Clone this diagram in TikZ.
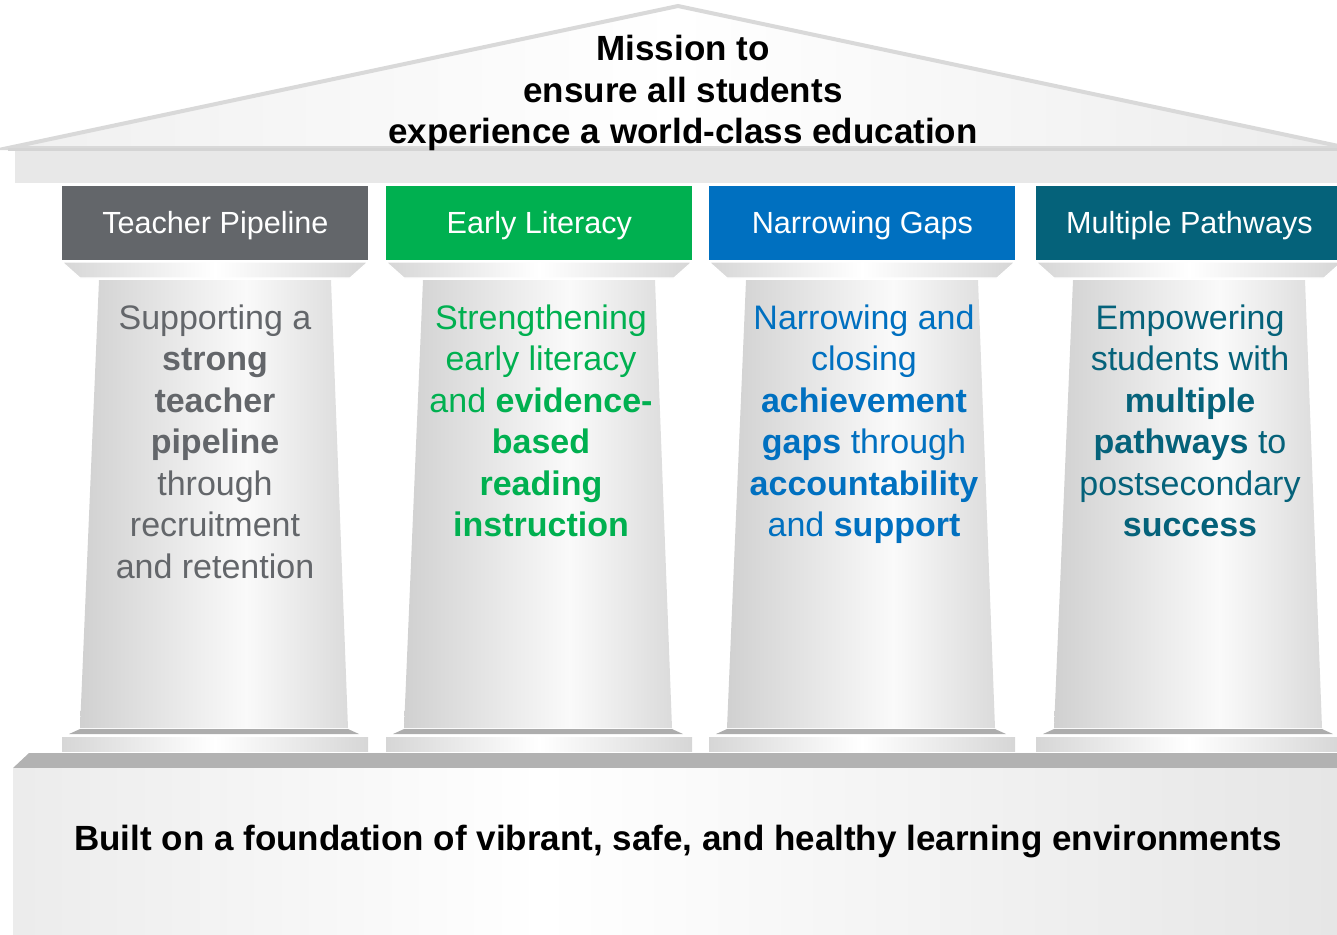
\documentclass[tikz,border=0pt]{standalone}
\usepackage{fontspec}
\setmainfont{Liberation Sans}
\usetikzlibrary{calc}

\definecolor{pipegray}{HTML}{63666A}
\definecolor{litgreen}{HTML}{00B050}
\definecolor{gapblue}{HTML}{0070C0}
\definecolor{pathteal}{HTML}{05627A}

\pgfdeclarehorizontalshading{roofshade}{100bp}{color(0bp)=(black!12); color(50bp)=(white); color(100bp)=(black!15)}
\pgfdeclarehorizontalshading{columnshade}{100bp}{color(0bp)=(black!28); color(18bp)=(black!22); color(56bp)=(black!2); color(84bp)=(black!20); color(100bp)=(black!29)}
\pgfdeclarehorizontalshading{capshade}{100bp}{color(0bp)=(black!32); color(50bp)=(white); color(100bp)=(black!32)}
\pgfdeclarehorizontalshading{groundshade}{100bp}{color(0bp)=(black!17); color(45bp)=(white); color(100bp)=(black!18)}

\tikzset{
  hdr/.style={anchor=north west, minimum width=153pt, minimum height=37pt, inner sep=0pt,
    text height=12pt, text depth=2pt, text=white, font=\fontsize{15.3}{18}\selectfont},
  body/.style={anchor=north, align=center, inner sep=0pt, font=\fontsize{17}{20.75}\selectfont},
  bigtext/.style={inner sep=0pt, font=\fontsize{17.5}{20.75}\selectfont\bfseries}
}

\begin{document}
\begin{tikzpicture}[x=0.5pt, y=-0.5pt]
    \useasboundingbox (0,0) rectangle (1337,934);
    \clip (0,0) rectangle (1337,934);
    % roof and beam
    \shadedraw[shading=roofshade, draw=black!15, line width=2pt] (8,148) -- (678,6) -- (1348,148) -- cycle;
    \fill[black!9] (15,150) rectangle (1337,183);
    \draw[line width=1.5pt, black!17] (8,149) -- (1337,149);
    \node[bigtext, anchor=north, align=center] (mission) at (683,35) {Mission to\\ensure all students\\experience a world-class education};
    % pillars
    \foreach \L/\c/\n/\t in {62/pipegray/1/Teacher Pipeline, 386/litgreen/2/Early Literacy, 709/gapblue/3/Narrowing Gaps, 1036/pathteal/4/Multiple Pathways} {
        \node[hdr, fill=\c] (hd\n) at (\L,186) {\t};
        \shadedraw[shading=capshade, draw=white, semithick] (\L,262) -- (\L+306,262) -- (\L+288,278) -- (\L+18,278) -- cycle;
        \shade[shading=columnshade] (\L+37,280) -- (\L+269,280) -- (\L+286,728) -- (\L+18,728) -- cycle;
        \fill[black!32] (\L+18,729) -- (\L+286,729) -- (\L+297,734) -- (\L+7,734) -- cycle;
        \shade[shading=capshade] (\L,737) rectangle (\L+306,751);
    }
    \node[body, text=pipegray] (txt1) at (215,304) {Supporting a\\\textbf{strong}\\\textbf{teacher}\\\textbf{pipeline}\\through\\recruitment\\and retention};
    \node[body, text=litgreen] (txt2) at (541,304) {Strengthening\\early literacy\\and \textbf{evidence-}\\\textbf{based}\\\textbf{reading}\\\textbf{instruction}};
    \node[body, text=gapblue] (txt3) at (864,304) {Narrowing and\\closing\\\textbf{achievement}\\\textbf{gaps} through\\\textbf{accountability}\\and \textbf{support}};
    \node[body, text=pathteal] (txt4) at (1190,304) {Empowering\\students with\\\textbf{multiple}\\\textbf{pathways} to\\postsecondary\\\textbf{success}};
    % foundation
    \fill[black!30] (13,768) -- (29,753) -- (1337,753) -- (1337,768) -- cycle;
    \shade[shading=groundshade] (13,768) rectangle (1337,934);
    \node[bigtext, anchor=base] (ground) at (678,850) {Built on a foundation of vibrant, safe, and healthy learning environments};
\end{tikzpicture}
\end{document}
